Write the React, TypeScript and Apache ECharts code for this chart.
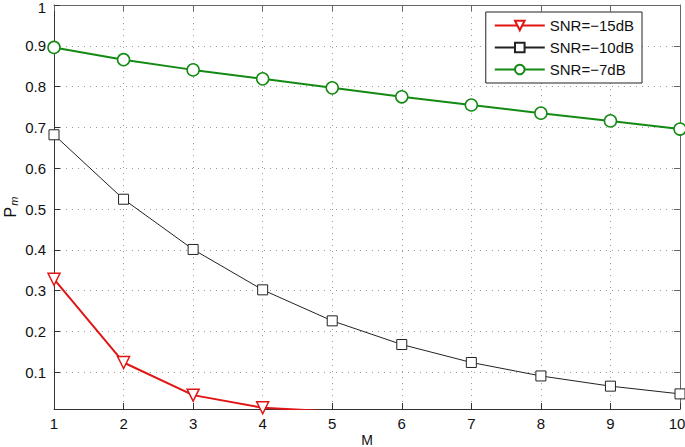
import React, { useEffect, useRef } from "react";
import * as echarts from "echarts";

const xNums = [1, 2, 3, 4, 5, 6, 7, 8, 9, 10];
const snr15 = [0.328, 0.124, 0.044, 0.013, 0.004, 0.0012, 0.0004, 0.0001, 0.00003, 0.00001];
const snr10 = [0.682, 0.524, 0.401, 0.302, 0.226, 0.168, 0.124, 0.091, 0.066, 0.047];
const snr7 = [0.896, 0.866, 0.841, 0.819, 0.797, 0.775, 0.755, 0.735, 0.716, 0.696];
const yTicks = [0.1, 0.2, 0.3, 0.4, 0.5, 0.6, 0.7, 0.8, 0.9, 1];
const seriesNames = ["SNR=\u221215dB", "SNR=\u221210dB", "SNR=\u22127dB"];

const FONT = "Liberation Sans";
const AXIS_COLOR = "#333";
const GRID_LINE = { show: true, lineStyle: { color: "#999", type: [1, 5] as any, width: 1 } };

export default function App() {
  const ref = useRef<HTMLDivElement>(null);
  useEffect(() => {
    if (!ref.current) return;
    const chart = echarts.init(ref.current, undefined, { renderer: "svg" });
    const pts = (arr: number[]) => arr.map((v, i) => [xNums[i], v]);
    chart.setOption({
      animation: false,
      backgroundColor: "#fff",
      textStyle: { fontFamily: FONT },
      grid: { left: 54, right: 5, top: 5, bottom: 38, containLabel: false, outerBoundsMode: "none" },
      legend: {
        orient: "vertical",
        right: 43,
        top: 12,
        backgroundColor: "#fff",
        borderColor: "#222",
        borderWidth: 1,
        borderRadius: 0,
        padding: [6, 8, 6, 8],
        itemWidth: 50,
        itemHeight: 12,
        itemGap: 7,
        textStyle: { fontFamily: FONT, fontSize: 15, color: "#111" },
        data: seriesNames,
      },
      xAxis: [
        {
          type: "value",
          min: 1,
          max: 10,
          interval: 1,
          name: "M",
          nameLocation: "middle",
          nameGap: 24,
          nameMoveOverlap: false,
          nameTextStyle: { fontFamily: FONT, fontSize: 14, lineHeight: 14, color: "#111" },
          axisLine: { show: true, lineStyle: { color: AXIS_COLOR, width: 1 } },
          axisTick: { show: true, inside: true, length: 6, lineStyle: { color: AXIS_COLOR } },
          axisLabel: {
            fontFamily: FONT,
            fontSize: 15,
            color: "#111",
            margin: 7,
            formatter: (v: number) => (v >= 10 ? "{r|" + v + "}" : String(v)),
            rich: { r: { fontFamily: FONT, fontSize: 15, color: "#111", padding: [0, 6, 0, 0] } },
          },
          splitLine: GRID_LINE,
        },
        {
          type: "value",
          position: "top",
          min: 1,
          max: 10,
          interval: 1,
          axisLine: { show: true, onZero: false, lineStyle: { color: "#666", width: 1 } },
          axisTick: { show: true, inside: true, length: 6, lineStyle: { color: "#666" } },
          axisLabel: { show: false },
          splitLine: { show: false },
        },
      ],
      yAxis: [
        {
          type: "value",
          min: 0.01,
          max: 1,
          name: "P{s|m}",
          nameLocation: "middle",
          nameGap: 35,
          nameMoveOverlap: false,
          nameRotate: 90,
          nameTextStyle: {
            fontFamily: FONT,
            fontSize: 16,
            lineHeight: 18,
            color: "#111",
            rich: {
              s: { fontSize: 11, lineHeight: 11, fontStyle: "italic", fontFamily: FONT, color: "#111", padding: [7, 0, 0, 1] },
            },
          },
          axisLine: { show: true, onZero: false, lineStyle: { color: AXIS_COLOR, width: 1 } },
          axisTick: { show: true, inside: true, length: 6, customValues: yTicks, lineStyle: { color: AXIS_COLOR } },
          axisLabel: {
            customValues: yTicks,
            fontFamily: FONT,
            fontSize: 15,
            color: "#111",
            margin: 8,
            formatter: (v: number) => {
              const s = String(Math.round(v * 10) / 10);
              return v > 0.95 ? "{t|" + s + "}" : s;
            },
            rich: { t: { fontFamily: FONT, fontSize: 15, color: "#111", padding: [5, 0, 0, 0] } },
          },
          splitLine: GRID_LINE,
        },
        {
          type: "value",
          position: "right",
          min: 0.01,
          max: 1,
          axisLine: { show: true, onZero: false, lineStyle: { color: "#666", width: 1 } },
          axisTick: { show: true, inside: true, length: 6, customValues: yTicks, lineStyle: { color: "#666" } },
          axisLabel: { show: false },
          splitLine: { show: false },
        },
      ],
      series: [
        {
          name: seriesNames[0],
          type: "line",
          data: pts(snr15),
          clip: true,
          symbol: "triangle",
          symbolRotate: 180,
          symbolSize: 12,
          lineStyle: { color: "#e01515", width: 2 },
          itemStyle: { color: "#fff", borderColor: "#e01515", borderWidth: 1.5 },
          z: 4,
        },
        {
          name: seriesNames[1],
          type: "line",
          data: pts(snr10),
          clip: true,
          symbol: "rect",
          symbolSize: 10,
          lineStyle: { color: "#222", width: 1 },
          itemStyle: { color: "#fff", borderColor: "#222", borderWidth: 1 },
          z: 3,
        },
        {
          name: seriesNames[2],
          type: "line",
          data: pts(snr7),
          clip: true,
          symbol: "circle",
          symbolSize: 12,
          lineStyle: { color: "#138a13", width: 2 },
          itemStyle: { color: "#fff", borderColor: "#138a13", borderWidth: 1.5 },
          z: 3,
        },
      ],
    });
    return () => chart.dispose();
  }, []);
  return (
    <div style={{ position: "absolute", left: 0, top: 0 }}>
      <div ref={ref} style={{ width: 685, height: 447 }} />
    </div>
  );
}
